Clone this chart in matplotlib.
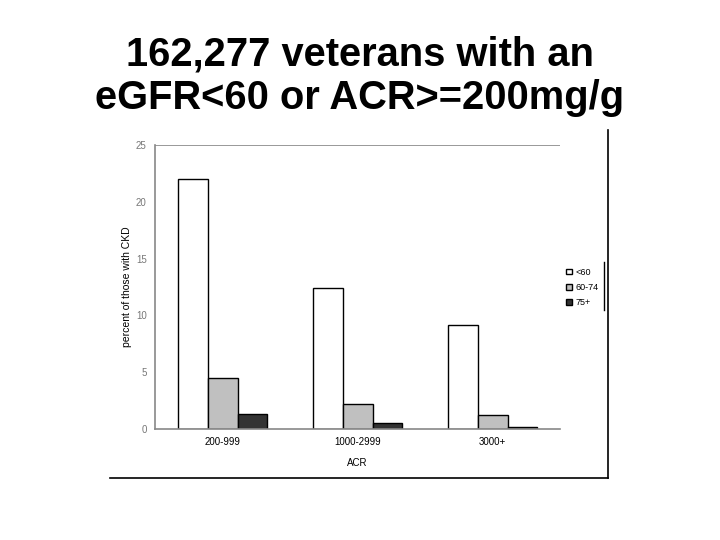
import matplotlib
matplotlib.use("Agg")
import matplotlib.pyplot as plt
import numpy as np
from matplotlib.lines import Line2D

plt.rcParams['font.family'] = ['Liberation Sans', 'DejaVu Sans']

groups = ['200-999', '1000-2999', '3000+']
series = ['<60', '60-74', '75+']
lt60 = [22.0, 12.4, 9.15]
mid = [4.5, 2.2, 1.2]
ge75 = [1.3, 0.55, 0.2]
colors = ['white', '#c0c0c0', '#333333']

fig = plt.figure(figsize=(7.2, 5.4), dpi=100)
fig.text(0.5, 0.935, "162,277 veterans with an\neGFR<60 or ACR>=200mg/g",
         ha='center', va='top', fontsize=28.7, fontweight='bold', linespacing=1.2)

ax = fig.add_axes([0.2153, 0.2056, 0.5625, 0.5259])
x = np.arange(len(groups))
w = 0.222
for i, (vals, c) in enumerate(zip([lt60, mid, ge75], colors)):
    ax.bar(x + (i - 1) * w, vals, w, color=c, edgecolor='black', linewidth=1.0,
           label=series[i])

ax.set_xlim(-0.5, 2.5)
ax.set_ylim(0, 25)
ax.set_yticks([0, 5, 10, 15, 20, 25])
ax.set_xticks(x)
ax.set_xticklabels(groups)
ax.tick_params(axis='both', labelsize=7, length=0, pad=6)
for t in ax.get_yticklabels():
    t.set_color('#777777')
ax.axhline(25, color='#888888', linewidth=1.2)
for s in ['top', 'right']:
    ax.spines[s].set_visible(False)
for s in ['left', 'bottom']:
    ax.spines[s].set_color('#888888')
    ax.spines[s].set_linewidth(1.2)
ax.set_xlabel('ACR', fontsize=7, labelpad=8)
ax.set_ylabel('percent of those with CKD', fontsize=7.5, labelpad=3)

leg = ax.legend(loc='upper left', bbox_to_anchor=(1.0, 0.59), frameon=False,
                fontsize=6.5, handlelength=0.6, handleheight=0.6,
                handletextpad=0.4, labelspacing=0.7, borderpad=0.2)

# legend box right edge and outer chart frame
fig.add_artist(Line2D([604 / 720, 604 / 720], [1 - 262 / 540, 1 - 310 / 540],
                      color='black', linewidth=1.0))
fig.add_artist(Line2D([608 / 720, 608 / 720], [1 - 130 / 540, 1 - 478 / 540],
                      color='black', linewidth=1.2))
fig.add_artist(Line2D([110 / 720, 608 / 720], [1 - 478 / 540, 1 - 478 / 540],
                      color='black', linewidth=1.2))

fig.savefig('out.png', dpi=100)
